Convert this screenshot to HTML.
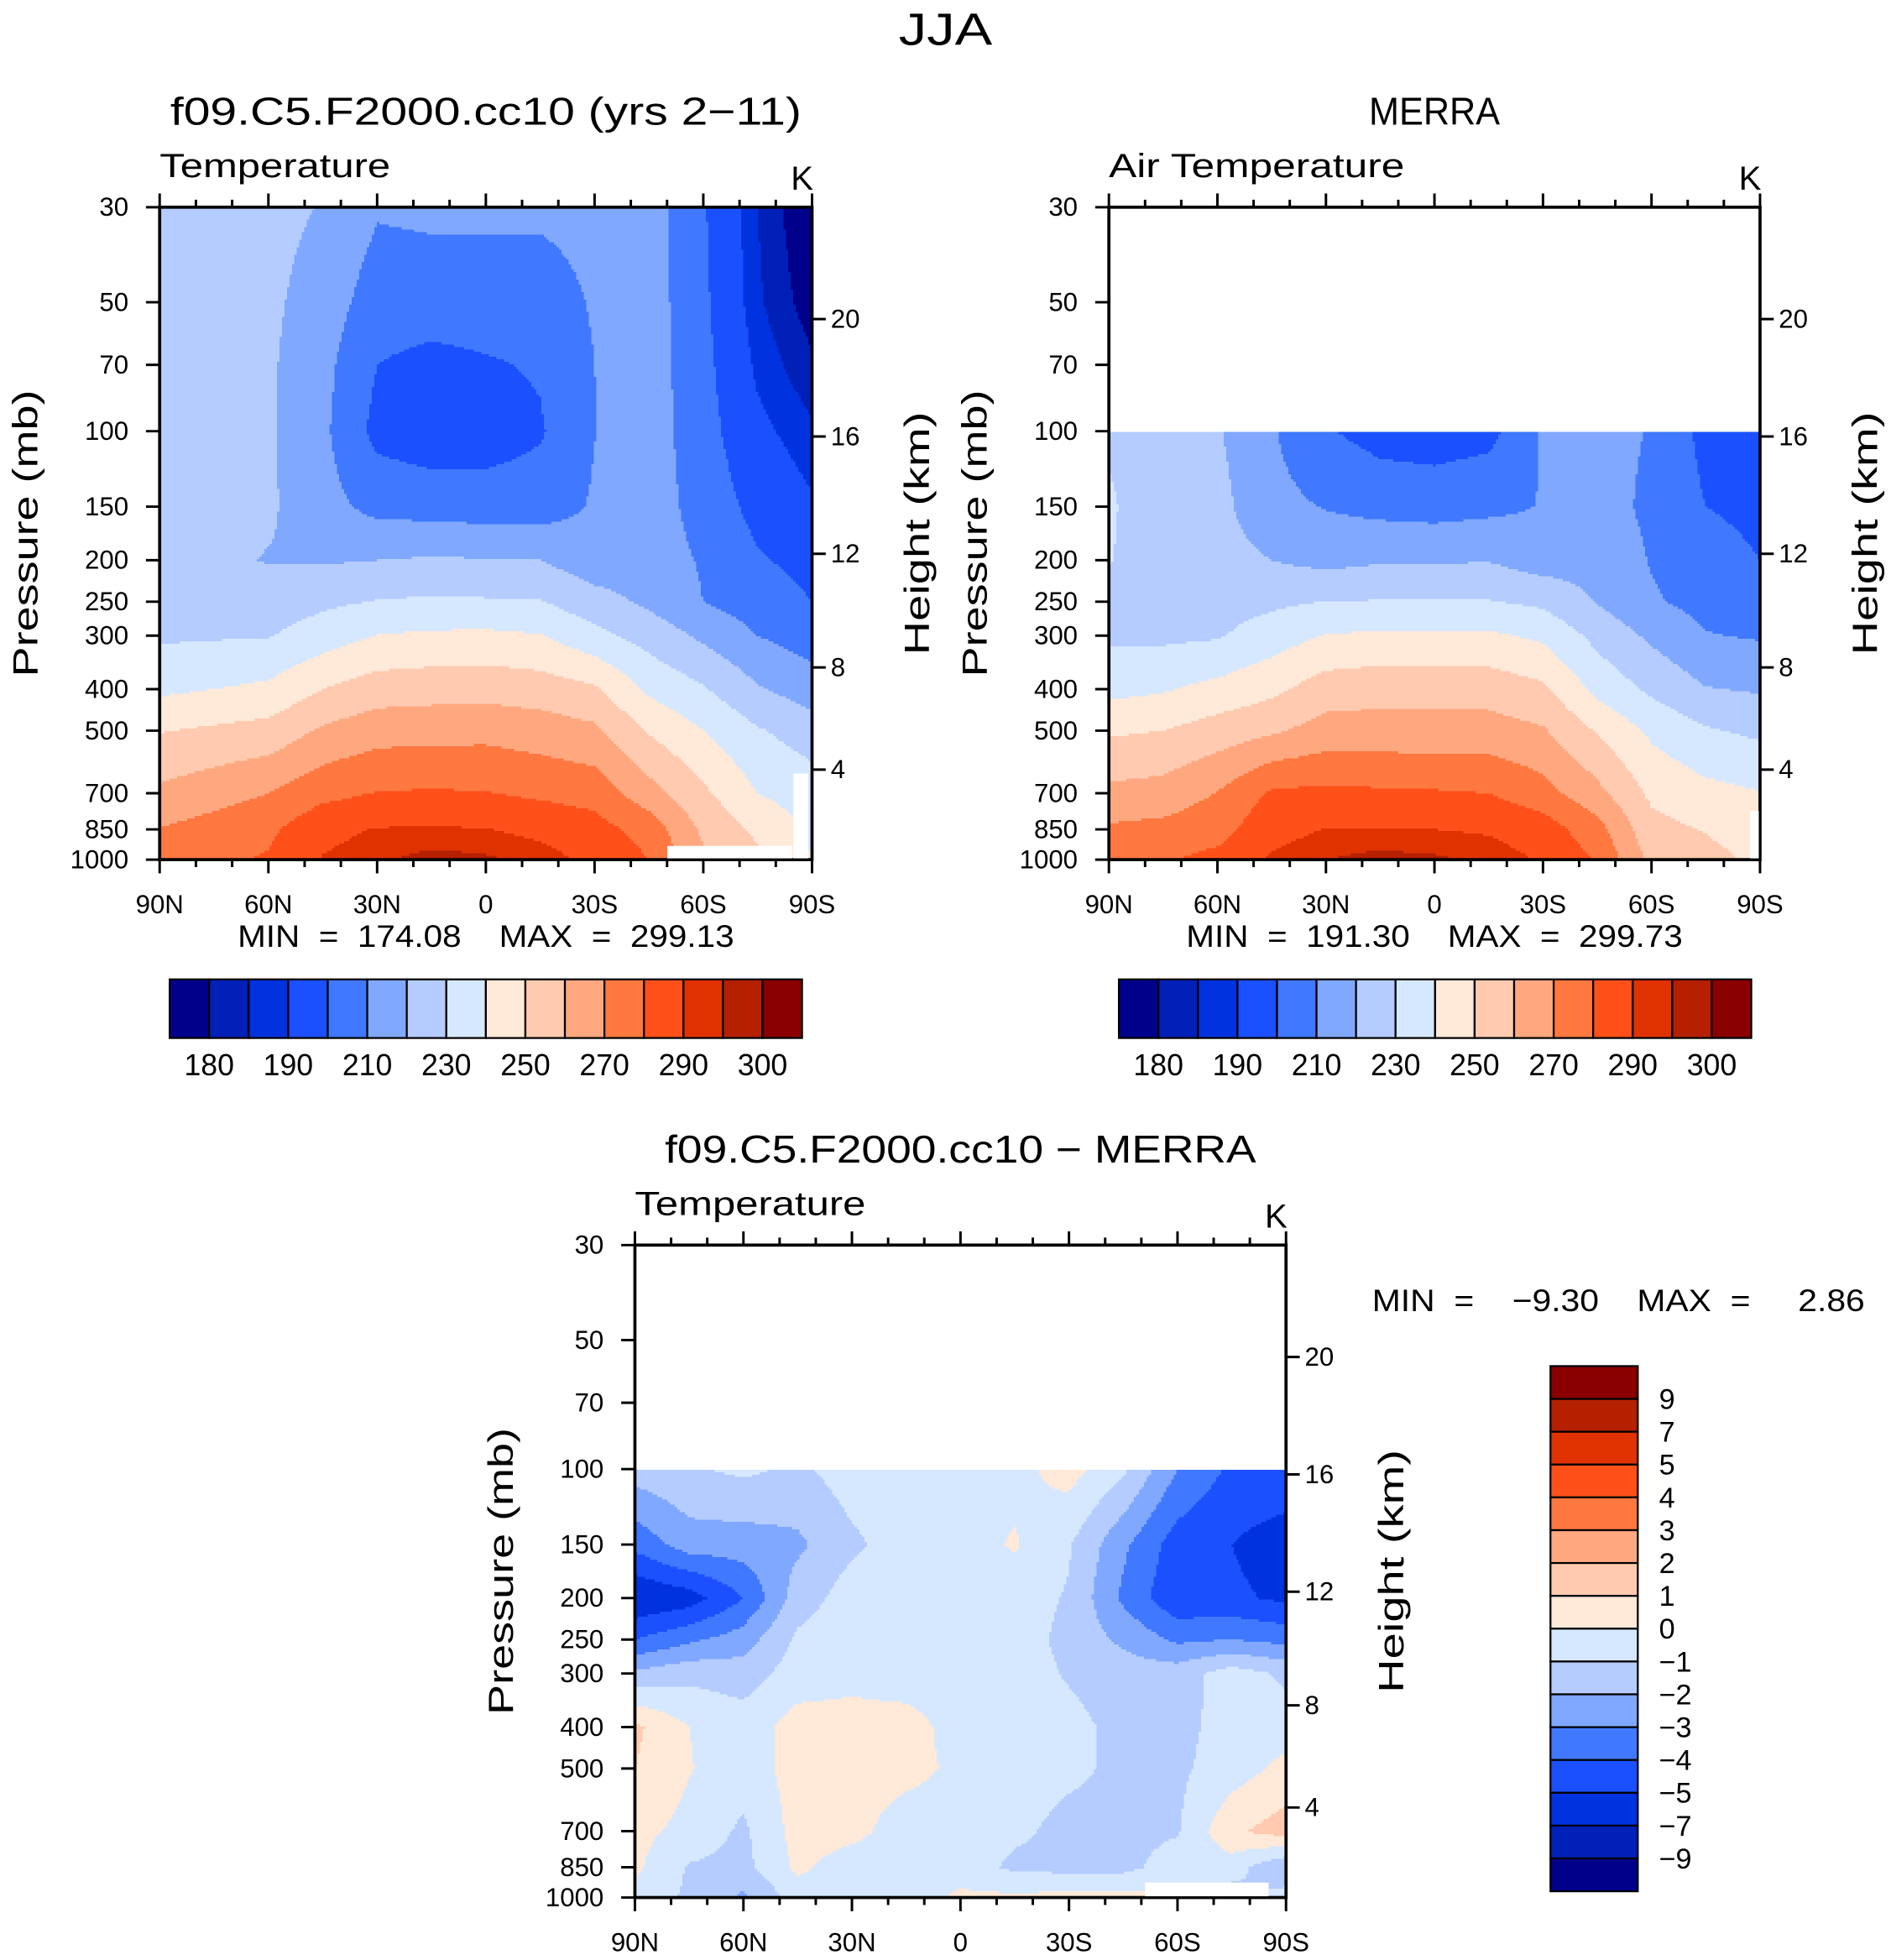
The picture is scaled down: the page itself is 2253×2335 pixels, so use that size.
<!DOCTYPE html>
<html><head><meta charset="utf-8">
<style>
html,body{margin:0;padding:0;background:#fff;}
svg{display:block;font-family:"Liberation Sans",sans-serif;}
text{fill:#000;white-space:pre;}
</style></head>
<body>
<svg id="fig" xmlns="http://www.w3.org/2000/svg" width="2253" height="2335" viewBox="0 0 1516 1571">
<rect width="1516" height="1571" fill="#fff"/>
<text x="758" y="36" font-size="36" text-anchor="middle" textLength="75" lengthAdjust="spacingAndGlyphs">JJA</text>
<g id="p1"></g>
<g id="p2"></g>
<g id="p3"></g>
</svg>
<script>
const lats=[90,75,60,45,30,15,0,-15,-30,-45,-60,-75,-90];
const levs=[1000,850,700,500,400,300,250,200,150,100,70,50,30];
const tempBounds=[180,185,190,200,210,220,230,240,250,260,270,280,290,295,300];
const tempTickLabels=["180","190","210","230","250","270","290","300"];
const diffBounds=[-9,-7,-5,-4,-3,-2,-1,0,1,2,3,4,5,7,9];
const diffTickLabels=["−9","−7","−5","−4","−3","−2","−1","0","1","2","3","4","5","7","9"];
const colors=["#00008a","#0020b8","#0032e0","#1a50ff","#4078ff","#80a8ff","#b4ccff","#d6e8ff","#ffe9d8","#ffcab0","#ffa880","#ff7840","#ff501a","#e03200","#b42000","#8a0000"];
const modelT=[
[275,278,281,290.5,294,297,296,293,288,280,262,252,240],
[270.5,274,278,287.5,290.5,291,290.3,288,284,276,258,248,238],
[262,266,270,277,280.5,281,280.5,278,276,264,252,240,235],
[249.5,251.5,253.5,261.5,266,266.5,267,265,262,249,240,231,225],
[238,240,242,250,255,256,256.5,255,251.5,238,231,221,215],
[228.5,229,229.5,235,240.3,241.5,242,240.5,233,226,218,210,205],
[225,224.5,224,228,230.5,231.5,231,230.5,224,218,210,205,200],
[225,222,219.5,219,220,221,220.5,220,214,215,209,201,197],
[225,223,221.5,213.5,207,206,205,205,211,215,206,197,191],
[225,223,221.5,212,197,194,195,199,209.8,215,204,192,186],
[225,223,221.5,213,200,197,199,201,210,215,203,188.5,181],
[225,223,222,215.5,205,205,205,205,211,215,202,186,177],
[225,224,223,219.5,211,212,212,212,213,215,201,185,174]];
const merraT=[
[276,279,283,291,295,297,296,294,289,279,257,253,248],
[271.5,273,276,287,290.3,290.5,290,289,285,274,253,249.5,245],
[262.5,264,270.5,281.5,282.5,281.5,281,280,274,263,248,243,240.5],
[248.5,250,254.5,258.5,264,264,264,264,261,249,238,231,228],
[237,239,243,247.5,255,256.5,256.5,256,252,237,228,220.5,219],
[228,228,229,235,240.5,241.5,241.5,241.5,238,227,218,210.5,209],
[226,226,226,228,230.2,230.5,230.5,230.5,228,219.5,211,207,203],
[230.5,225,224,220,217,219,219,219.5,215,216,209.5,205,200],
[231,225,223,213,209.5,207,206,207.5,210.5,214,208,200,197],
[229,226,221,211,201,196,195,197,211,213,209.5,197,194],
null,null,null];
const diffT=[
[-0.3,-1.2,-2.2,-0.5,-0.5,-0.5,0.2,0.2,0.3,0.3,0.3,-1.5,-0.5],
[0.2,-1.1,-1.3,0.2,-0.5,-0.5,-0.5,-1.2,-1.3,-1.3,-0.5,-0.5,-2],
[0.3,-0.3,-1.2,0.4,0.3,-0.5,-0.5,-0.8,-1.3,-1.3,-1.1,0.8,1.5],
[1.0,0.05,-0.5,0.4,0.4,0.3,-0.2,-0.5,-0.8,-1.2,-1.2,-0.5,0.3],
[1.2,0.0,-0.5,0.4,0.4,0.4,-0.4,-0.5,-0.7,-1.3,-1.3,-0.6,-0.5],
[-1.8,-1.3,-1.5,-0.5,-0.3,-0.5,-0.5,-0.5,-1.1,-1.5,-1.5,-0.5,-1.2],
[-4,-3.2,-2.5,-0.8,-0.4,-0.5,-0.5,-0.5,-1.3,-2.2,-3.2,-3,-3.3],
[-6,-5.5,-4,-1.5,-0.5,-0.5,-0.5,-0.5,-1.1,-3.2,-4.8,-4.8,-5.2],
[-3.7,-2.5,-2.5,-2.2,-1.2,-0.5,-0.4,0.1,-0.9,-2.8,-4.5,-5,-5.6],
[-1.5,-1.1,-0.8,-1.2,-0.5,-0.5,-0.7,-0.3,0.4,-0.8,-3,-4.2,-4.2],
null,null,null];
const latTicks=[90,60,30,0,-30,-60,-90];
const latLabels=["90N","60N","30N","0","30S","60S","90S"];
const presTicks=[1000,850,700,500,400,300,250,200,150,100,70,50,30];
const kmTicks=[4,8,12,16,20];

const NS="http://www.w3.org/2000/svg";
function mk(tag,attrs,parent){const e=document.createElementNS(NS,tag);for(const k in attrs)e.setAttribute(k,attrs[k]);if(parent)parent.appendChild(e);return e;}
function fit(t,len){t.setAttribute('textLength',len);t.setAttribute('lengthAdjust','spacingAndGlyphs');}
function stdP(z){return z<=11?1013.25*Math.pow(1-0.0065*z*1000/288.15,5.2559):226.32*Math.exp(-(z-11)/6.3416);}
function sample(data,lat,p){
  let fi=(90-lat)/15; let i=Math.max(0,Math.min(Math.floor(fi),lats.length-2)); let fx=fi-i;
  let k=0; while(k<levs.length-2 && p<levs[k+1])k++;
  let fy=Math.log(levs[k]/p)/Math.log(levs[k]/levs[k+1]);
  const r0=data[k],r1=data[k+1]; if(!r0||!r1)return null;
  const a=r0[i]*(1-fx)+r0[i+1]*fx, b=r1[i]*(1-fx)+r1[i+1]*fx;
  return a*(1-fy)+b*fy;
}
function lvl(v,b){let c=0;while(c<b.length&&v>=b[c])c++;return c;}
function panel(g,box,data,bounds,title,titleLen,sub,subLen,minmax){
  const {L,T,W,H}=box;
  const yOf=p=>T+Math.log(p/30)/Math.log(1000/30)*H;
  const xOf=lat=>L+(90-lat)/180*W;
  const field=mk('g',{'shape-rendering':'crispEdges'},g);
  
  
  const step=2;
  const nx=Math.ceil(W/step);
  for(let y=T;y<T+H;y+=step){
    const hh=Math.min(step,T+H-y);
    const p=30*Math.exp((y+hh/2-T)/H*Math.log(1000/30));
    let runStart=L,runC=null;
    for(let ix=0;ix<=nx;ix++){
      const x=Math.min(L+ix*step,L+W);
      let c=null;
      if(ix<nx){const xc=Math.min(x+step/2,L+W);const v=sample(data,90-(xc-L)/W*180,p); c=v===null?null:lvl(v,bounds);}
      if(ix===nx||c!==runC){
        if(runC!==null){const r=mk('rect',{x:runStart,y:y,width:x-runStart+0.4,height:hh+0.4,fill:colors[runC]},field);
          
          }
        runStart=x;runC=c;
      }
    }
  }
  const fr=mk('rect',{x:L,y:T,width:W,height:H,fill:'none',stroke:'#000','stroke-width':2.5},g);
  
  
  for(let lat=90;lat>=-90;lat-=10){
    const x=xOf(lat),maj=lat%30===0,len=maj?11:6;
    mk('line',{x1:x,y1:T,x2:x,y2:T-len,stroke:'#000','stroke-width':2},g);
    mk('line',{x1:x,y1:T+H,x2:x,y2:T+H+len,stroke:'#000','stroke-width':2},g);
  }
  latTicks.forEach((lat,i)=>{const t=mk('text',{x:xOf(lat),y:T+H+43,'font-size':21,'text-anchor':'middle'},g);t.textContent=latLabels[i];
    
    });
  presTicks.forEach(p=>{const y=yOf(p);mk('line',{x1:L,y1:y,x2:L-11,y2:y,stroke:'#000','stroke-width':2},g);
    const t=mk('text',{x:L-25,y:y+7,'font-size':21,'text-anchor':'end'},g);t.textContent=p;
    
    });
  kmTicks.forEach(z=>{const y=yOf(stdP(z));mk('line',{x1:L+W,y1:y,x2:L+W+11,y2:y,stroke:'#000','stroke-width':2},g);
    const t=mk('text',{x:L+W+15,y:y+7,'font-size':21},g);t.textContent=z;
    
    });
  const yt=mk('text',{x:0,y:0,'font-size':28,'text-anchor':'middle',transform:`translate(${L-98},${T+H/2}) rotate(-90)`},g);yt.textContent='Pressure (mb)';fit(yt,230);
  
  
  const ht=mk('text',{x:0,y:0,'font-size':28,'text-anchor':'middle',transform:`translate(${L+W+94},${T+H/2}) rotate(-90)`},g);ht.textContent='Height (km)';fit(ht,195);
  
  
  if(title){const t=mk('text',{x:L+W/2,y:T-66,'font-size':31,'text-anchor':'middle'},g);t.textContent=title;fit(t,titleLen);
    
    }
  const s=mk('text',{x:L,y:T-24,'font-size':27},g);s.textContent=sub;fit(s,subLen);
  
  
  const u=mk('text',{x:L+W-8,y:T-14,'font-size':27,'text-anchor':'middle'},g);u.textContent='K';
  
  
  if(minmax){const m=mk('text',{x:L+W/2,y:T+H+70,'font-size':25,'text-anchor':'middle'},g);m.textContent=minmax;fit(m,398);
    
    }
}
function hbar(g,x0,y0,w,h){
  const n=colors.length,bw=w/n;
  colors.forEach((c,i)=>{const r=mk('rect',{x:x0+i*bw,y:y0,width:bw,height:h,fill:c,stroke:'#000','stroke-width':1.5},g);
    
    });
  tempTickLabels.forEach((s,i)=>{const t=mk('text',{x:x0+(1+2*i)*bw,y:y0+h+30,'font-size':24,'text-anchor':'middle'},g);t.textContent=s;
    
    });
}
function blank(g,x,y,w,h){const r=mk('rect',{x:x,y:y,width:w,height:h,fill:'#fff'},g);
  
  }
const g1=document.getElementById('p1'),g2=document.getElementById('p2'),g3=document.getElementById('p3');
panel(g1,{L:128,T:166,W:523,H:523},modelT,tempBounds,'f09.C5.F2000.cc10 (yrs 2−11)',506,'Temperature',185,'MIN  =  174.08    MAX  =  299.13');
blank(g1,535,678,100,10);blank(g1,636,620,12,68);
hbar(g1,136,785,507,47);
panel(g2,{L:889,T:166,W:522,H:523},merraT,tempBounds,'MERRA',105,'Air Temperature',237,'MIN  =  191.30    MAX  =  299.73');
blank(g2,1403,650,7,38);
hbar(g2,897,785,507,47);
panel(g3,{L:509,T:998,W:522,H:523},diffT,diffBounds,'f09.C5.F2000.cc10 − MERRA',474,'Temperature',185,null);
blank(g3,918,1509,99,11);
const mm=mk('text',{x:1100,y:1051,'font-size':25},g3);mm.textContent='MIN  =    −9.30    MAX  =     2.86';fit(mm,395);


(function(){const x0=1243,y0=1095,w=70,h=421,n=colors.length,bh=h/n;
  for(let i=0;i<n;i++){const r=mk('rect',{x:x0,y:y0+i*bh,width:w,height:bh,fill:colors[n-1-i],stroke:'#000','stroke-width':1.5},g3);
    
    }
  const rev=diffTickLabels.slice().reverse();
  rev.forEach((s,i)=>{const t=mk('text',{x:x0+w+17,y:y0+(i+1)*bh+8,'font-size':23},g3);t.textContent=s;
    
    });
})();
</script>
</body></html>
